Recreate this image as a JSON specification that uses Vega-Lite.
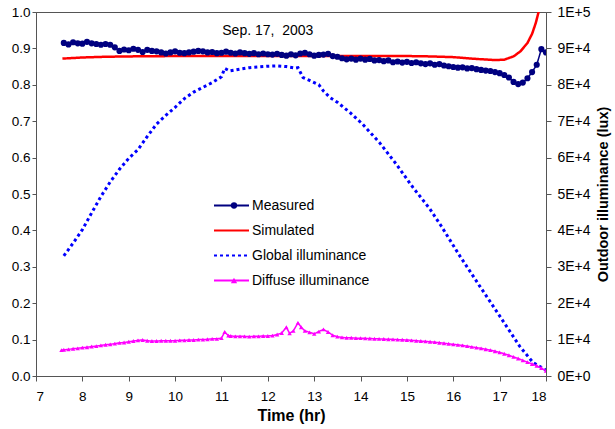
{
  "$schema": "https://vega.github.io/schema/vega-lite/v6.json",
  "width": 510,
  "height": 364,
  "autosize": "none",
  "padding": {"left": 36, "top": 12, "right": 69, "bottom": 53},
  "background": "white",
  "config": {
    "font": "Liberation Sans",
    "view": {"stroke": "#555", "strokeWidth": 1},
    "axis": {"labelFont": "Liberation Sans", "labelFontSize": 13.5, "labelColor": "#000", "domainColor": "#555", "tickColor": "#555", "grid": false, "titleFont": "Liberation Sans", "titleFontSize": 14.5, "titleFontWeight": "bold", "titleColor": "#000"},
    "legend": {"labelFont": "Liberation Sans", "labelFontSize": 14, "labelColor": "#000", "padding": 0, "rowPadding": 8, "clipHeight": 17}
  },
  "datasets": {
    "left": [
      {"t":7.6,"v":0.915,"s":"Measured"},{"t":7.7,"v":0.911,"s":"Measured"},{"t":7.8,"v":0.917,"s":"Measured"},{"t":7.9,"v":0.914,"s":"Measured"},{"t":8.0,"v":0.913,"s":"Measured"},{"t":8.1,"v":0.918,"s":"Measured"},{"t":8.2,"v":0.914,"s":"Measured"},{"t":8.3,"v":0.912,"s":"Measured"},{"t":8.4,"v":0.910,"s":"Measured"},{"t":8.5,"v":0.912,"s":"Measured"},
      {"t":8.6,"v":0.910,"s":"Measured"},{"t":8.7,"v":0.903,"s":"Measured"},{"t":8.8,"v":0.893,"s":"Measured"},{"t":8.9,"v":0.897,"s":"Measured"},{"t":9.0,"v":0.895,"s":"Measured"},{"t":9.1,"v":0.899,"s":"Measured"},{"t":9.2,"v":0.896,"s":"Measured"},{"t":9.3,"v":0.890,"s":"Measured"},{"t":9.4,"v":0.896,"s":"Measured"},{"t":9.5,"v":0.893,"s":"Measured"},
      {"t":9.6,"v":0.892,"s":"Measured"},{"t":9.7,"v":0.889,"s":"Measured"},{"t":9.8,"v":0.886,"s":"Measured"},{"t":9.9,"v":0.889,"s":"Measured"},{"t":10.0,"v":0.892,"s":"Measured"},{"t":10.1,"v":0.888,"s":"Measured"},{"t":10.2,"v":0.887,"s":"Measured"},{"t":10.3,"v":0.889,"s":"Measured"},{"t":10.4,"v":0.891,"s":"Measured"},{"t":10.5,"v":0.893,"s":"Measured"},
      {"t":10.6,"v":0.892,"s":"Measured"},{"t":10.7,"v":0.889,"s":"Measured"},{"t":10.8,"v":0.890,"s":"Measured"},{"t":10.9,"v":0.887,"s":"Measured"},{"t":11.0,"v":0.888,"s":"Measured"},{"t":11.1,"v":0.891,"s":"Measured"},{"t":11.2,"v":0.888,"s":"Measured"},{"t":11.3,"v":0.886,"s":"Measured"},{"t":11.4,"v":0.889,"s":"Measured"},{"t":11.5,"v":0.887,"s":"Measured"},
      {"t":11.6,"v":0.885,"s":"Measured"},{"t":11.7,"v":0.887,"s":"Measured"},{"t":11.8,"v":0.884,"s":"Measured"},{"t":11.9,"v":0.886,"s":"Measured"},{"t":12.0,"v":0.884,"s":"Measured"},{"t":12.1,"v":0.883,"s":"Measured"},{"t":12.2,"v":0.885,"s":"Measured"},{"t":12.3,"v":0.882,"s":"Measured"},{"t":12.4,"v":0.880,"s":"Measured"},{"t":12.5,"v":0.884,"s":"Measured"},
      {"t":12.6,"v":0.881,"s":"Measured"},{"t":12.7,"v":0.886,"s":"Measured"},{"t":12.8,"v":0.888,"s":"Measured"},{"t":12.9,"v":0.884,"s":"Measured"},{"t":13.0,"v":0.880,"s":"Measured"},{"t":13.1,"v":0.882,"s":"Measured"},{"t":13.2,"v":0.883,"s":"Measured"},{"t":13.3,"v":0.885,"s":"Measured"},{"t":13.4,"v":0.879,"s":"Measured"},{"t":13.5,"v":0.877,"s":"Measured"},
      {"t":13.6,"v":0.873,"s":"Measured"},{"t":13.7,"v":0.870,"s":"Measured"},{"t":13.8,"v":0.872,"s":"Measured"},{"t":13.9,"v":0.869,"s":"Measured"},{"t":14.0,"v":0.872,"s":"Measured"},{"t":14.1,"v":0.869,"s":"Measured"},{"t":14.2,"v":0.871,"s":"Measured"},{"t":14.3,"v":0.867,"s":"Measured"},{"t":14.4,"v":0.868,"s":"Measured"},{"t":14.5,"v":0.865,"s":"Measured"},
      {"t":14.6,"v":0.867,"s":"Measured"},{"t":14.7,"v":0.862,"s":"Measured"},{"t":14.8,"v":0.864,"s":"Measured"},{"t":14.9,"v":0.861,"s":"Measured"},{"t":15.0,"v":0.863,"s":"Measured"},{"t":15.1,"v":0.860,"s":"Measured"},{"t":15.2,"v":0.862,"s":"Measured"},{"t":15.3,"v":0.859,"s":"Measured"},{"t":15.4,"v":0.857,"s":"Measured"},{"t":15.5,"v":0.859,"s":"Measured"},
      {"t":15.6,"v":0.855,"s":"Measured"},{"t":15.7,"v":0.857,"s":"Measured"},{"t":15.8,"v":0.853,"s":"Measured"},{"t":15.9,"v":0.851,"s":"Measured"},{"t":16.0,"v":0.849,"s":"Measured"},{"t":16.1,"v":0.847,"s":"Measured"},{"t":16.2,"v":0.848,"s":"Measured"},{"t":16.3,"v":0.845,"s":"Measured"},{"t":16.4,"v":0.846,"s":"Measured"},{"t":16.5,"v":0.843,"s":"Measured"},
      {"t":16.6,"v":0.841,"s":"Measured"},{"t":16.7,"v":0.839,"s":"Measured"},{"t":16.8,"v":0.838,"s":"Measured"},{"t":16.9,"v":0.835,"s":"Measured"},{"t":17.0,"v":0.832,"s":"Measured"},{"t":17.1,"v":0.827,"s":"Measured"},{"t":17.2,"v":0.820,"s":"Measured"},{"t":17.3,"v":0.808,"s":"Measured"},{"t":17.4,"v":0.802,"s":"Measured"},{"t":17.5,"v":0.806,"s":"Measured"},
      {"t":17.6,"v":0.818,"s":"Measured"},{"t":17.7,"v":0.835,"s":"Measured"},{"t":17.8,"v":0.855,"s":"Measured"},{"t":17.9,"v":0.898,"s":"Measured"},{"t":18.0,"v":0.889,"s":"Measured"},
      {"t":7.57,"v":0.872,"s":"Simulated"},{"t":8.0,"v":0.875,"s":"Simulated"},{"t":8.5,"v":0.877,"s":"Simulated"},{"t":9.0,"v":0.878,"s":"Simulated"},{"t":10.0,"v":0.879,"s":"Simulated"},{"t":11.0,"v":0.879,"s":"Simulated"},{"t":12.0,"v":0.879,"s":"Simulated"},{"t":13.0,"v":0.879,"s":"Simulated"},{"t":14.0,"v":0.879,"s":"Simulated"},{"t":15.0,"v":0.879,"s":"Simulated"},{"t":15.5,"v":0.878,"s":"Simulated"},{"t":16.0,"v":0.876,"s":"Simulated"},{"t":16.5,"v":0.871,"s":"Simulated"},{"t":16.9,"v":0.868,"s":"Simulated"},{"t":17.1,"v":0.869,"s":"Simulated"},{"t":17.3,"v":0.878,"s":"Simulated"},{"t":17.45,"v":0.892,"s":"Simulated"},{"t":17.6,"v":0.915,"s":"Simulated"},{"t":17.7,"v":0.94,"s":"Simulated"},{"t":17.78,"v":0.97,"s":"Simulated"},{"t":17.84,"v":1.0,"s":"Simulated"},{"t":17.9,"v":1.04,"s":"Simulated"}
    ],
    "right": [
      {"t":7.6,"v":33000,"s":"Global illuminance"},{"t":7.8,"v":36500,"s":"Global illuminance"},{"t":8.0,"v":40200,"s":"Global illuminance"},{"t":8.2,"v":44800,"s":"Global illuminance"},{"t":8.4,"v":49300,"s":"Global illuminance"},{"t":8.6,"v":53300,"s":"Global illuminance"},{"t":8.8,"v":56800,"s":"Global illuminance"},{"t":9.0,"v":59800,"s":"Global illuminance"},{"t":9.2,"v":62200,"s":"Global illuminance"},{"t":9.4,"v":65800,"s":"Global illuminance"},{"t":9.6,"v":69200,"s":"Global illuminance"},{"t":9.8,"v":71600,"s":"Global illuminance"},{"t":10.0,"v":73800,"s":"Global illuminance"},{"t":10.2,"v":76200,"s":"Global illuminance"},{"t":10.4,"v":78000,"s":"Global illuminance"},{"t":10.6,"v":79300,"s":"Global illuminance"},{"t":10.8,"v":80600,"s":"Global illuminance"},{"t":11.0,"v":82200,"s":"Global illuminance"},{"t":11.07,"v":84500,"s":"Global illuminance"},{"t":11.18,"v":83800,"s":"Global illuminance"},{"t":11.4,"v":84300,"s":"Global illuminance"},{"t":11.6,"v":84700,"s":"Global illuminance"},{"t":11.8,"v":84900,"s":"Global illuminance"},{"t":12.0,"v":85100,"s":"Global illuminance"},{"t":12.2,"v":85200,"s":"Global illuminance"},{"t":12.4,"v":85000,"s":"Global illuminance"},{"t":12.6,"v":84600,"s":"Global illuminance"},{"t":12.65,"v":84700,"s":"Global illuminance"},{"t":12.76,"v":82000,"s":"Global illuminance"},{"t":12.9,"v":81200,"s":"Global illuminance"},{"t":13.1,"v":80000,"s":"Global illuminance"},{"t":13.2,"v":78300,"s":"Global illuminance"},{"t":13.34,"v":76500,"s":"Global illuminance"},{"t":13.5,"v":75200,"s":"Global illuminance"},{"t":13.77,"v":72400,"s":"Global illuminance"},{"t":14.05,"v":69100,"s":"Global illuminance"},{"t":14.41,"v":64100,"s":"Global illuminance"},{"t":14.77,"v":58200,"s":"Global illuminance"},{"t":15.13,"v":51800,"s":"Global illuminance"},{"t":15.49,"v":46000,"s":"Global illuminance"},{"t":15.74,"v":41200,"s":"Global illuminance"},{"t":16.14,"v":33000,"s":"Global illuminance"},{"t":16.57,"v":24700,"s":"Global illuminance"},{"t":17.0,"v":16500,"s":"Global illuminance"},{"t":17.43,"v":8200,"s":"Global illuminance"},{"t":17.72,"v":3700,"s":"Global illuminance"},{"t":18.0,"v":1600,"s":"Global illuminance"},
      {"t":7.55,"v":7100,"s":"Diffuse illuminance"},{"t":7.6,"v":7200,"s":"Diffuse illuminance"},{"t":7.7,"v":7300,"s":"Diffuse illuminance"},{"t":7.8,"v":7500,"s":"Diffuse illuminance"},{"t":7.9,"v":7600,"s":"Diffuse illuminance"},{"t":8.0,"v":7800,"s":"Diffuse illuminance"},{"t":8.1,"v":7900,"s":"Diffuse illuminance"},{"t":8.2,"v":8100,"s":"Diffuse illuminance"},{"t":8.3,"v":8200,"s":"Diffuse illuminance"},{"t":8.4,"v":8400,"s":"Diffuse illuminance"},{"t":8.5,"v":8600,"s":"Diffuse illuminance"},{"t":8.6,"v":8700,"s":"Diffuse illuminance"},{"t":8.7,"v":8900,"s":"Diffuse illuminance"},{"t":8.8,"v":9100,"s":"Diffuse illuminance"},{"t":8.9,"v":9200,"s":"Diffuse illuminance"},{"t":9.0,"v":9400,"s":"Diffuse illuminance"},{"t":9.1,"v":9600,"s":"Diffuse illuminance"},{"t":9.2,"v":9800,"s":"Diffuse illuminance"},{"t":9.3,"v":9900,"s":"Diffuse illuminance"},{"t":9.4,"v":9700,"s":"Diffuse illuminance"},{"t":9.5,"v":9600,"s":"Diffuse illuminance"},{"t":9.6,"v":9600,"s":"Diffuse illuminance"},{"t":9.7,"v":9700,"s":"Diffuse illuminance"},{"t":9.8,"v":9700,"s":"Diffuse illuminance"},{"t":9.9,"v":9700,"s":"Diffuse illuminance"},{"t":10.0,"v":9700,"s":"Diffuse illuminance"},{"t":10.1,"v":9800,"s":"Diffuse illuminance"},{"t":10.2,"v":9800,"s":"Diffuse illuminance"},{"t":10.3,"v":9900,"s":"Diffuse illuminance"},{"t":10.4,"v":9900,"s":"Diffuse illuminance"},{"t":10.5,"v":10000,"s":"Diffuse illuminance"},{"t":10.6,"v":10000,"s":"Diffuse illuminance"},{"t":10.7,"v":10100,"s":"Diffuse illuminance"},{"t":10.8,"v":10200,"s":"Diffuse illuminance"},{"t":10.9,"v":10200,"s":"Diffuse illuminance"},{"t":11.0,"v":10400,"s":"Diffuse illuminance"},{"t":11.07,"v":12100,"s":"Diffuse illuminance"},{"t":11.15,"v":11100,"s":"Diffuse illuminance"},{"t":11.2,"v":11000,"s":"Diffuse illuminance"},{"t":11.3,"v":10900,"s":"Diffuse illuminance"},{"t":11.4,"v":10900,"s":"Diffuse illuminance"},{"t":11.5,"v":10900,"s":"Diffuse illuminance"},{"t":11.6,"v":10800,"s":"Diffuse illuminance"},{"t":11.7,"v":10900,"s":"Diffuse illuminance"},{"t":11.8,"v":10900,"s":"Diffuse illuminance"},{"t":11.9,"v":11000,"s":"Diffuse illuminance"},{"t":12.0,"v":11000,"s":"Diffuse illuminance"},{"t":12.1,"v":11100,"s":"Diffuse illuminance"},{"t":12.2,"v":11400,"s":"Diffuse illuminance"},{"t":12.3,"v":11800,"s":"Diffuse illuminance"},{"t":12.4,"v":13400,"s":"Diffuse illuminance"},{"t":12.47,"v":11700,"s":"Diffuse illuminance"},{"t":12.55,"v":12400,"s":"Diffuse illuminance"},{"t":12.65,"v":14600,"s":"Diffuse illuminance"},{"t":12.72,"v":13400,"s":"Diffuse illuminance"},{"t":12.8,"v":12400,"s":"Diffuse illuminance"},{"t":12.9,"v":12000,"s":"Diffuse illuminance"},{"t":13.0,"v":11600,"s":"Diffuse illuminance"},{"t":13.1,"v":12200,"s":"Diffuse illuminance"},{"t":13.2,"v":12800,"s":"Diffuse illuminance"},{"t":13.3,"v":12100,"s":"Diffuse illuminance"},{"t":13.4,"v":11200,"s":"Diffuse illuminance"},{"t":13.5,"v":10800,"s":"Diffuse illuminance"},{"t":13.6,"v":10600,"s":"Diffuse illuminance"},{"t":13.7,"v":10500,"s":"Diffuse illuminance"},{"t":13.8,"v":10500,"s":"Diffuse illuminance"},{"t":13.9,"v":10400,"s":"Diffuse illuminance"},{"t":14.0,"v":10400,"s":"Diffuse illuminance"},{"t":14.1,"v":10350,"s":"Diffuse illuminance"},{"t":14.2,"v":10300,"s":"Diffuse illuminance"},{"t":14.3,"v":10250,"s":"Diffuse illuminance"},{"t":14.4,"v":10200,"s":"Diffuse illuminance"},{"t":14.5,"v":10150,"s":"Diffuse illuminance"},{"t":14.6,"v":10100,"s":"Diffuse illuminance"},{"t":14.7,"v":10050,"s":"Diffuse illuminance"},{"t":14.8,"v":10000,"s":"Diffuse illuminance"},{"t":14.9,"v":9950,"s":"Diffuse illuminance"},{"t":15.0,"v":9900,"s":"Diffuse illuminance"},{"t":15.1,"v":9800,"s":"Diffuse illuminance"},{"t":15.2,"v":9700,"s":"Diffuse illuminance"},{"t":15.3,"v":9600,"s":"Diffuse illuminance"},{"t":15.4,"v":9500,"s":"Diffuse illuminance"},{"t":15.5,"v":9400,"s":"Diffuse illuminance"},{"t":15.6,"v":9300,"s":"Diffuse illuminance"},{"t":15.7,"v":9150,"s":"Diffuse illuminance"},{"t":15.8,"v":9000,"s":"Diffuse illuminance"},{"t":15.9,"v":8850,"s":"Diffuse illuminance"},{"t":16.0,"v":8700,"s":"Diffuse illuminance"},{"t":16.1,"v":8550,"s":"Diffuse illuminance"},{"t":16.2,"v":8400,"s":"Diffuse illuminance"},{"t":16.3,"v":8200,"s":"Diffuse illuminance"},{"t":16.4,"v":8000,"s":"Diffuse illuminance"},{"t":16.5,"v":7800,"s":"Diffuse illuminance"},{"t":16.6,"v":7600,"s":"Diffuse illuminance"},{"t":16.7,"v":7350,"s":"Diffuse illuminance"},{"t":16.8,"v":7100,"s":"Diffuse illuminance"},{"t":16.9,"v":6800,"s":"Diffuse illuminance"},{"t":17.0,"v":6500,"s":"Diffuse illuminance"},{"t":17.1,"v":6100,"s":"Diffuse illuminance"},{"t":17.2,"v":5700,"s":"Diffuse illuminance"},{"t":17.3,"v":5250,"s":"Diffuse illuminance"},{"t":17.4,"v":4800,"s":"Diffuse illuminance"},{"t":17.5,"v":4300,"s":"Diffuse illuminance"},{"t":17.6,"v":3800,"s":"Diffuse illuminance"},{"t":17.7,"v":3300,"s":"Diffuse illuminance"},{"t":17.8,"v":2800,"s":"Diffuse illuminance"},{"t":17.9,"v":2200,"s":"Diffuse illuminance"},{"t":18.0,"v":1400,"s":"Diffuse illuminance"}
    ]
  },
  "encoding": {
    "x": {"field": "t", "type": "quantitative", "scale": {"domain": [7, 18], "nice": false},
      "axis": {"values": [7,8,9,10,11,12,13,14,15,16,17,18], "format": "d", "title": "Time (hr)", "titleFontSize": 16, "tickSize": 5, "labelPadding": 8, "titlePadding": 5}}
  },
  "layer": [
    {
      "data": {"name": "left"},
      "encoding": {
        "y": {"field": "v", "type": "quantitative", "scale": {"domain": [0, 1], "nice": false, "zero": true},
          "axis": {"orient": "left", "values": [0,0.1,0.2,0.3,0.4,0.5,0.6,0.7,0.8,0.9,1.0], "format": ".1f", "title": null, "tickSize": 4, "labelPadding": 2}}
      },
      "layer": [
        {
          "transform": [{"filter": "datum.s === 'Simulated'"}],
          "mark": {"type": "line", "clip": true, "strokeWidth": 2.5},
          "encoding": {
            "stroke": {"field": "s", "type": "nominal", "scale": {"domain": ["Measured","Simulated","Global illuminance","Diffuse illuminance"], "range": ["#000080","#ff0000","#0000ff","#ff00ff"]},
              "legend": {"orient": "none", "legendX": 177, "legendY": 185, "title": null, "symbolType": "stroke", "symbolSize": 1225, "symbolStrokeWidth": 2, "labelOffset": 2}},
            "strokeDash": {"field": "s", "type": "nominal", "scale": {"domain": ["Measured","Simulated","Global illuminance","Diffuse illuminance"], "range": [[1,0],[1,0],[3,3],[1,0]]},
              "legend": {"orient": "none", "legendX": 177, "legendY": 185, "title": null, "symbolType": "stroke", "symbolSize": 1225, "symbolStrokeWidth": 2, "labelOffset": 2}}
          }
        },
        {
          "transform": [{"filter": "datum.s === 'Measured'"}],
          "mark": {"type": "line", "clip": true, "strokeWidth": 1.5},
          "encoding": {
            "stroke": {"field": "s", "type": "nominal", "scale": {"domain": ["Measured","Simulated","Global illuminance","Diffuse illuminance"], "range": ["#000080","#ff0000","#0000ff","#ff00ff"]},
              "legend": {"orient": "none", "legendX": 177, "legendY": 185, "title": null, "symbolType": "stroke", "symbolSize": 1225, "symbolStrokeWidth": 2, "labelOffset": 2}},
            "strokeDash": {"field": "s", "type": "nominal", "scale": {"domain": ["Measured","Simulated","Global illuminance","Diffuse illuminance"], "range": [[1,0],[1,0],[3,3],[1,0]]},
              "legend": {"orient": "none", "legendX": 177, "legendY": 185, "title": null, "symbolType": "stroke", "symbolSize": 1225, "symbolStrokeWidth": 2, "labelOffset": 2}}
          }
        },
        {
          "transform": [{"filter": "datum.s === 'Measured'"}, {"calculate": "'mk1'", "as": "m"}],
          "mark": {"type": "point", "filled": true, "size": 38, "strokeOpacity": 0, "opacity": 1, "clip": true},
          "encoding": {
            "fill": {"field": "m", "type": "nominal", "scale": {"domain": ["mk1","mk2","mk3","mk4"], "range": ["#000080","#ff0000","#0000ff","#ff00ff"]},
              "legend": {"orient": "none", "legendX": 191, "legendY": 185, "title": null, "symbolSize": 40, "labelExpr": "''", "symbolStrokeWidth": 0}},
            "shape": {"field": "m", "type": "nominal", "scale": {"domain": ["mk1","mk2","mk3","mk4"], "range": ["circle","M0,0","M0,0","triangle-up"]},
              "legend": {"orient": "none", "legendX": 191, "legendY": 185, "title": null, "symbolSize": 40, "labelExpr": "''", "symbolStrokeWidth": 0}}
          }
        },
        {
          "data": {"values": [{"t": 12.0, "v": 0.948, "label": "Sep. 17,\u00a0 2003"}]},
          "mark": {"type": "text", "fontSize": 14, "font": "Liberation Sans", "color": "#000"},
          "encoding": {"text": {"field": "label"}}
        }
      ]
    },
    {
      "data": {"name": "right"},
      "encoding": {
        "y": {"field": "v", "type": "quantitative", "scale": {"domain": [0, 100000], "nice": false, "zero": true},
          "axis": {"orient": "right", "values": [0,10000,20000,30000,40000,50000,60000,70000,80000,90000,100000],
            "labelExpr": "datum.value === 0 ? '0E+0' : (datum.value >= 100000 ? '1E+5' : (datum.value / 10000) + 'E+4')",
            "labelFontSize": 14,
            "title": "Outdoor illuminance (lux)", "titleAngle": 270, "titleBaseline": "top", "tickSize": 5, "labelPadding": 6, "titlePadding": 6}}
      },
      "layer": [
        {
          "transform": [{"filter": "datum.s === 'Global illuminance'"}],
          "mark": {"type": "line", "clip": true, "strokeWidth": 3},
          "encoding": {
            "stroke": {"field": "s", "type": "nominal", "scale": {"domain": ["Measured","Simulated","Global illuminance","Diffuse illuminance"], "range": ["#000080","#ff0000","#0000ff","#ff00ff"]},
              "legend": {"orient": "none", "legendX": 177, "legendY": 185, "title": null, "symbolType": "stroke", "symbolSize": 1225, "symbolStrokeWidth": 2, "labelOffset": 2}},
            "strokeDash": {"field": "s", "type": "nominal", "scale": {"domain": ["Measured","Simulated","Global illuminance","Diffuse illuminance"], "range": [[1,0],[1,0],[3,3],[1,0]]},
              "legend": {"orient": "none", "legendX": 177, "legendY": 185, "title": null, "symbolType": "stroke", "symbolSize": 1225, "symbolStrokeWidth": 2, "labelOffset": 2}}
          }
        },
        {
          "transform": [{"filter": "datum.s === 'Diffuse illuminance'"}],
          "mark": {"type": "line", "clip": true, "strokeWidth": 1.5},
          "encoding": {
            "stroke": {"field": "s", "type": "nominal", "scale": {"domain": ["Measured","Simulated","Global illuminance","Diffuse illuminance"], "range": ["#000080","#ff0000","#0000ff","#ff00ff"]},
              "legend": {"orient": "none", "legendX": 177, "legendY": 185, "title": null, "symbolType": "stroke", "symbolSize": 1225, "symbolStrokeWidth": 2, "labelOffset": 2}},
            "strokeDash": {"field": "s", "type": "nominal", "scale": {"domain": ["Measured","Simulated","Global illuminance","Diffuse illuminance"], "range": [[1,0],[1,0],[3,3],[1,0]]},
              "legend": {"orient": "none", "legendX": 177, "legendY": 185, "title": null, "symbolType": "stroke", "symbolSize": 1225, "symbolStrokeWidth": 2, "labelOffset": 2}}
          }
        },
        {
          "transform": [{"filter": "datum.s === 'Diffuse illuminance'"}, {"calculate": "'mk4'", "as": "m"}],
          "mark": {"type": "point", "filled": true, "size": 20, "strokeOpacity": 0, "opacity": 1, "clip": true},
          "encoding": {
            "fill": {"field": "m", "type": "nominal", "scale": {"domain": ["mk1","mk2","mk3","mk4"], "range": ["#000080","#ff0000","#0000ff","#ff00ff"]},
              "legend": {"orient": "none", "legendX": 191, "legendY": 185, "title": null, "symbolSize": 40, "labelExpr": "''", "symbolStrokeWidth": 0}},
            "shape": {"field": "m", "type": "nominal", "scale": {"domain": ["mk1","mk2","mk3","mk4"], "range": ["circle","M0,0","M0,0","triangle-up"]},
              "legend": {"orient": "none", "legendX": 191, "legendY": 185, "title": null, "symbolSize": 40, "labelExpr": "''", "symbolStrokeWidth": 0}}
          }
        }
      ]
    }
  ],
  "resolve": {"scale": {"y": "independent"}}
}
